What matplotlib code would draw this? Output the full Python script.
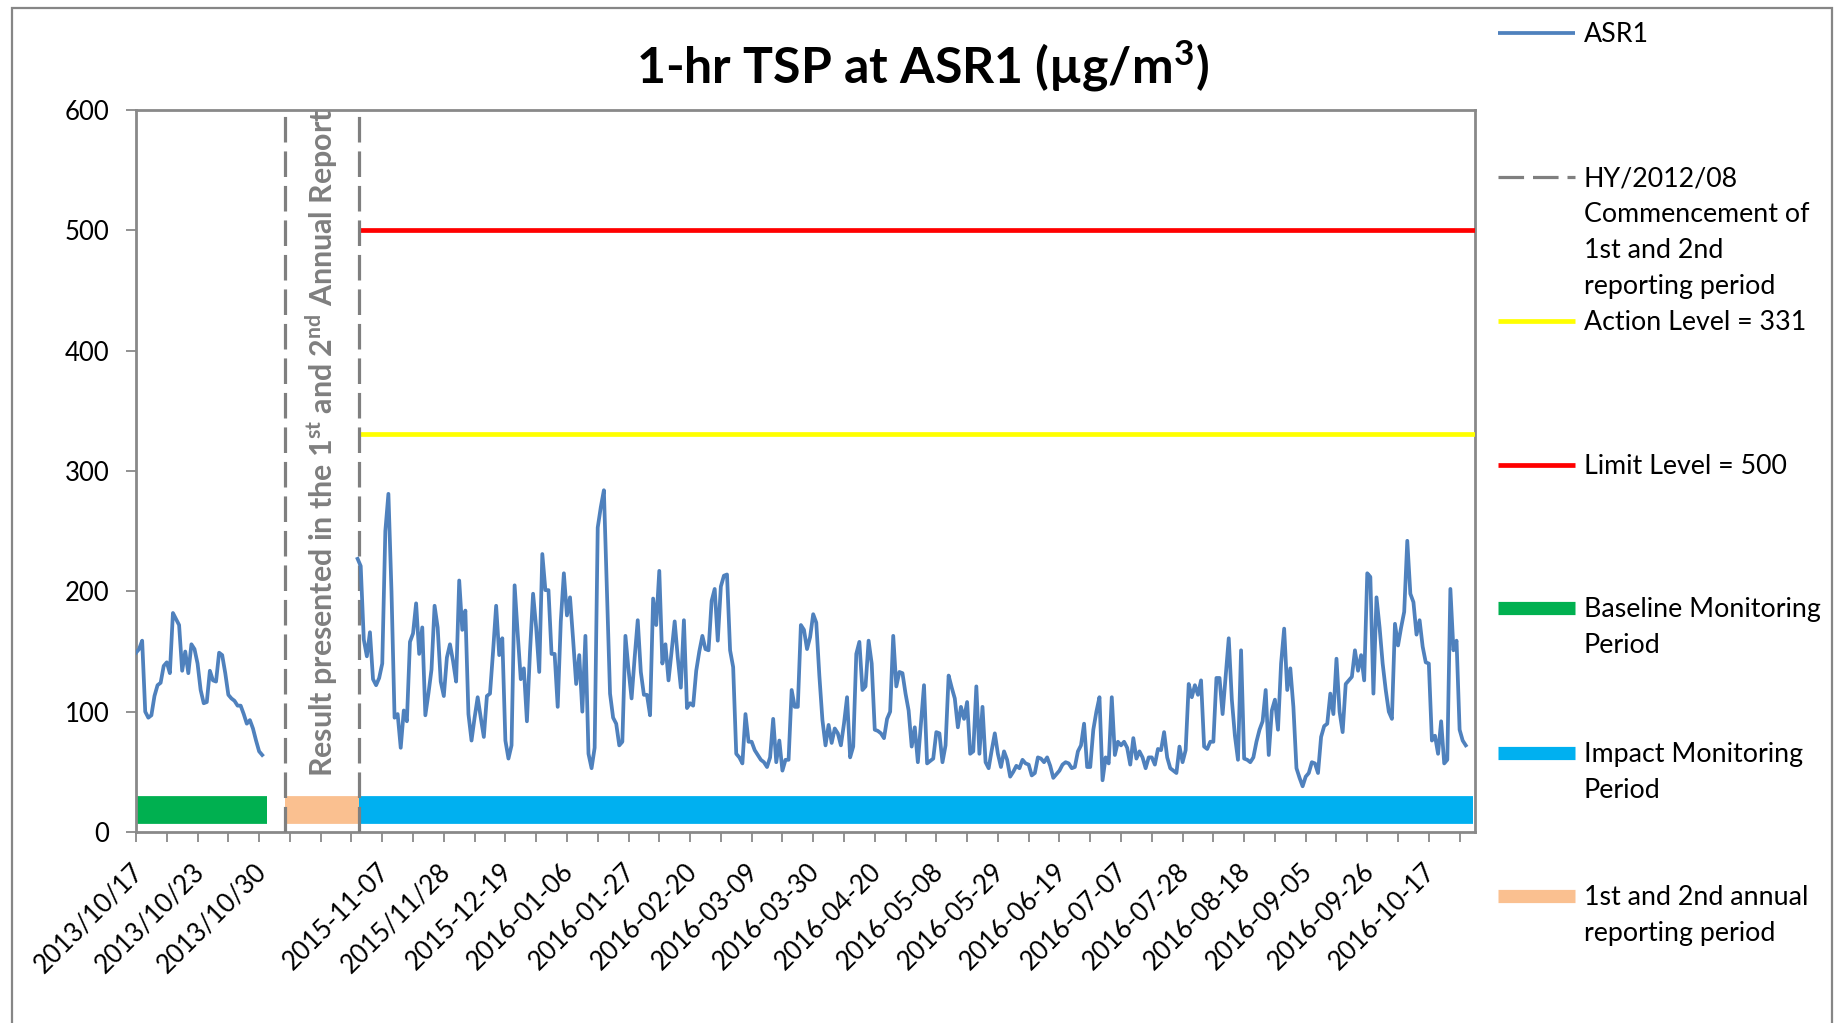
import numpy as np
import matplotlib
matplotlib.use("Agg")
import matplotlib.pyplot as plt
from matplotlib.lines import Line2D
from matplotlib.patches import Rectangle
import matplotlib.transforms as mtransforms

plt.rcParams['font.family'] = ['Lato', 'DejaVu Sans']
plt.rcParams['mathtext.fontset'] = 'custom'
plt.rcParams['mathtext.rm'] = 'Lato'
plt.rcParams['mathtext.bf'] = 'Lato:bold'
plt.rcParams['mathtext.it'] = 'Lato:italic'

# ---------------- data ----------------
title = r"1-hr TSP at ASR1 (µg/m$^{\mathbf{3}}$)"

baseline_start = 0
baseline_values = [149, 152, 159, 100, 95, 97, 113, 122, 124, 138,
                   141, 132, 182, 177, 172, 134, 150, 132, 156, 152,
                   140, 118, 107, 108, 134, 126, 125, 149, 147, 132,
                   114, 111, 109, 105, 105, 98, 90, 93, 86, 76,
                   67, 64]

impact_start = 72
impact_values = [
    227, 221, 160, 146, 166, 127, 122, 128, 140, 250,   # 72-81
    281, 200, 95, 98, 70, 101, 92, 158, 165, 190,       # 82-91
    148, 170, 97, 115, 135, 188, 170, 125, 113, 145,    # 92-101
    156, 142, 125, 209, 168, 184, 98, 76, 95, 112,      # 102-111
    95, 79, 113, 115, 150, 188, 147, 161, 76, 61,       # 112-121
    72, 205, 165, 127, 136, 92, 150, 198, 170, 133,     # 122-131
    231, 201, 201, 148, 148, 104, 175, 215, 180, 195,   # 132-141
    160, 123, 147, 100, 163, 65, 53, 70, 253, 270,      # 142-151
    284, 200, 115, 95, 90, 72, 75, 163, 135, 111,       # 152-161
    145, 176, 133, 114, 114, 97, 194, 172, 217, 140,    # 162-171
    156, 126, 150, 175, 145, 120, 176, 103, 107, 105,   # 172-181
    134, 150, 163, 152, 151, 192, 202, 159, 204, 213,   # 182-191
    214, 151, 137, 65, 62, 57, 98, 75, 75, 68,          # 192-201
    64, 60, 58, 54, 62, 94, 58, 76, 51, 60,             # 202-211
    60, 118, 104, 104, 172, 168, 152, 162, 181, 174,    # 212-221
    130, 93, 72, 89, 74, 86, 82, 72, 90, 112,           # 222-231
    62, 71, 148, 158, 118, 121, 159, 140, 85, 84,       # 232-241
    82, 78, 94, 100, 163, 121, 133, 132, 115, 101,      # 242-251
    71, 87, 58, 90, 122, 57, 59, 61, 83, 82,            # 252-261
    58, 72, 130, 120, 111, 87, 104, 94, 108, 65,        # 262-271
    67, 121, 65, 104, 58, 53, 68, 82, 65, 54,           # 272-281
    67, 60, 46, 50, 55, 53, 60, 57, 56, 47,             # 282-291
    49, 62, 61, 58, 62, 55, 45, 48, 51, 56,             # 292-301
    58, 57, 53, 54, 67, 72, 90, 54, 54, 85,             # 302-311
    100, 112, 43, 62, 57, 112, 64, 75, 72, 75,          # 312-321
    70, 56, 78, 61, 67, 62, 53, 62, 62, 56,             # 322-331
    69, 68, 83, 62, 53, 51, 49, 71, 58, 68,             # 332-341
    123, 112, 122, 114, 126, 71, 69, 75, 75, 128,       # 342-351
    128, 98, 130, 161, 110, 80, 60, 151, 61, 60,        # 352-361
    58, 62, 75, 85, 92, 118, 64, 101, 110, 85,          # 362-371
    140, 169, 118, 136, 104, 53, 45, 38, 46, 49,        # 372-381
    58, 57, 49, 79, 88, 90, 115, 98, 144, 100,          # 382-391
    83, 123, 126, 129, 151, 134, 147, 126, 215, 212,    # 392-401
    115, 195, 170, 140, 118, 100, 94, 173, 155, 170,    # 402-411
    183, 242, 198, 191, 164, 176, 154, 141, 140, 76,    # 412-421
    80, 65, 92, 57, 60, 202, 151, 159, 85, 76,          # 422-431
    72,                                                 # 432
]

n_categories = 436
tick_every = 10
label_every = 20
x_tick_labels = ['2013/10/17', '2013/10/23', '2013/10/30', '',
                 '2015-11-07', '2015/11/28', '2015-12-19', '2016-01-06',
                 '2016-01-27', '2016-02-20', '2016-03-09', '2016-03-30',
                 '2016-04-20', '2016-05-08', '2016-05-29', '2016-06-19',
                 '2016-07-07', '2016-07-28', '2016-08-18', '2016-09-05',
                 '2016-09-26', '2016-10-17']

action_level = 331
limit_level = 500
level_span = (72, 435)
commencement_positions = [48.5, 72.5]
baseline_period = (0, 42.5)
reporting_period = (48.5, 72.5)
impact_period = (72.5, 434.3)
period_bar_level = 18

legend_labels = [
    ["ASR1"],
    ["HY/2012/08", "Commencement of", "1st and 2nd", "reporting period"],
    ["Action Level = 331"],
    ["Limit Level = 500"],
    ["Baseline Monitoring", "Period"],
    ["Impact Monitoring", "Period"],
    ["1st and 2nd annual", "reporting period"],
]

# ---------------- styles ----------------
W, H = 1843, 1023
fig = plt.figure(figsize=(W / 100, H / 100), dpi=100)
fig.patch.set_facecolor('white')

GRAY = '#898989'
styles = [
    dict(color='#4F81BD', lw=2.7, ls='-'),
    dict(color='#7F7F7F', lw=2.3, ls=(0, (8.0, 2.8))),
    dict(color='#FFFF00', lw=3.4, ls='-'),
    dict(color='#FF0000', lw=3.4, ls='-'),
    dict(color='#00B050', lw=9.5, ls='-'),
    dict(color='#00B0F0', lw=9.5, ls='-'),
    dict(color='#FAC090', lw=9.5, ls='-'),
]

def fx(px):
    return px / W

def fy(py):
    return 1 - py / H

ax = fig.add_axes([fx(136), fy(832), fx(1475) - fx(136), fy(110) - fy(832)])
ax.set_xlim(0, n_categories - 1)
ax.set_ylim(0, 600)

# period bars
bar_lw = 20
for (a, b), st in [(baseline_period, styles[4]), (reporting_period, styles[6]),
                   (impact_period, styles[5])]:
    ax.plot([a, b], [period_bar_level, period_bar_level], color=st['color'],
            lw=bar_lw, solid_capstyle='butt', zorder=2)

# levels
ax.plot(level_span, [limit_level, limit_level], color=styles[3]['color'],
        lw=styles[3]['lw'], solid_capstyle='butt', zorder=3)
ax.plot(level_span, [action_level, action_level], color=styles[2]['color'],
        lw=styles[2]['lw'], solid_capstyle='butt', zorder=3)

# commencement dashed lines
for xp in commencement_positions:
    ax.plot([xp, xp], [0, 600], color=styles[1]['color'], lw=styles[1]['lw'],
            ls=styles[1]['ls'], zorder=3)

# ASR1 series
xb = np.arange(baseline_start, baseline_start + len(baseline_values))
xi = np.arange(impact_start, impact_start + len(impact_values))
ax.plot(xb, baseline_values, color=styles[0]['color'], lw=styles[0]['lw'],
        solid_joinstyle='round', zorder=4)
ax.plot(xi, impact_values, color=styles[0]['color'], lw=styles[0]['lw'],
        solid_joinstyle='round', zorder=4)

# rotated annotation
ax.text(np.mean(commencement_positions), 46,
        r"Result presented in the 1$^{\mathbf{st}}$ and 2$^{\mathbf{nd}}$ Annual Report",
        rotation=90, ha='center', va='bottom', color='#7F7F7F',
        fontsize=21.9, fontweight='bold', clip_on=True, zorder=3)

# axes styling
for sp in ax.spines.values():
    sp.set_color(GRAY)
    sp.set_linewidth(2)

ax.set_yticks(np.arange(0, 601, 100))
ax.tick_params(axis='y', direction='out', length=7.2, width=1.3, color=GRAY,
               pad=12, labelsize=18.5, labelcolor='black')

ticks = np.arange(0, n_categories, tick_every)
ticks = ticks[ticks < n_categories - 1]
ax.set_xticks(ticks)
labels = []
li = 0
for t in ticks:
    if t % label_every == 0 and li < len(x_tick_labels):
        labels.append(x_tick_labels[li])
        li += 1
    else:
        labels.append('')
ax.set_xticklabels(labels)
ax.tick_params(axis='x', direction='out', length=7.2, width=1.3, color=GRAY,
               pad=12, labelsize=18.5, labelcolor='black')
off = mtransforms.ScaledTranslation(-6 / 100, 0, fig.dpi_scale_trans)
for lbl in ax.get_xticklabels():
    lbl.set_rotation(45)
    lbl.set_ha('right')
    lbl.set_va('top')
    lbl.set_rotation_mode('anchor')
    lbl.set_transform(lbl.get_transform() + off)

# title
fig.text(fx(922), fy(84), title, ha='center', va='baseline',
         fontsize=36, fontweight='bold', color='black')

# legend (manual, Excel-like layout)
entry_y = [33, 177, 321, 465, 608, 753, 896]
line_gap = 36
for lab, st, y0 in zip(legend_labels, styles, entry_y):
    lw = st['lw'] if st['lw'] < 9 else 9.5
    fig.add_artist(Line2D([fx(1498), fx(1575)], [fy(y0), fy(y0)],
                          color=st['color'], lw=lw, ls=st['ls'],
                          solid_capstyle='butt', transform=fig.transFigure))
    for k, line in enumerate(lab):
        fig.text(fx(1584), fy(y0 + k * line_gap + 9), line, ha='left',
                 va='baseline', fontsize=19.3, color='black')

# outer chart border
fig.add_artist(Rectangle((fx(12), -0.02), fx(1832) - fx(12), fy(8) + 0.02,
                         transform=fig.transFigure, fill=False,
                         edgecolor='#868686', lw=1.6))

fig.savefig('out.png', dpi=100, facecolor='white')
